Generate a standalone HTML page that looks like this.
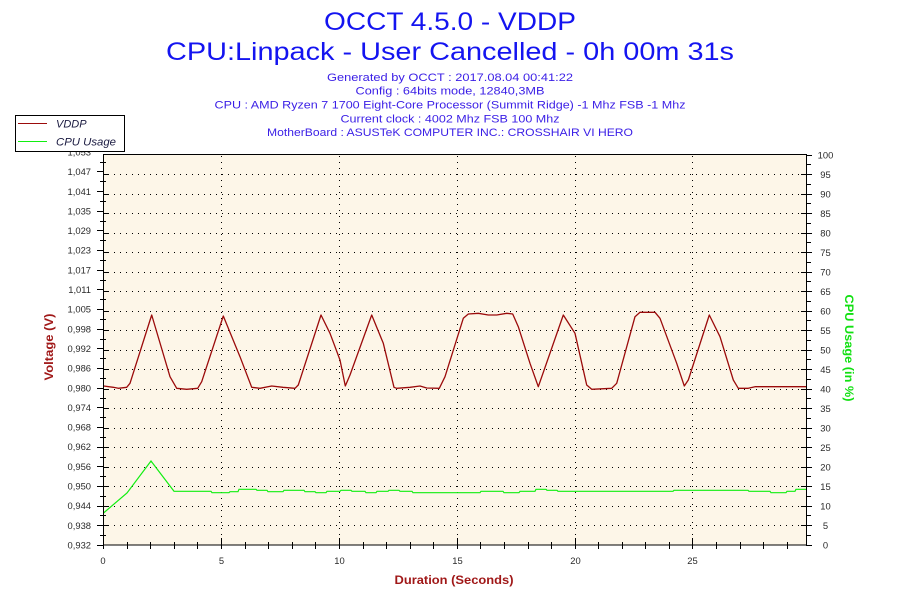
<!DOCTYPE html>
<html><head><meta charset="utf-8"><style>
html,body{margin:0;padding:0;background:#fff;}
svg{display:block;font-family:"Liberation Sans",sans-serif;}
</style></head><body>
<svg width="900" height="600" viewBox="0 0 900 600" xmlns="http://www.w3.org/2000/svg">
<rect width="900" height="600" fill="#fff"/>
<!-- titles -->
<text x="450" y="30" font-size="25" fill="#1414f0" text-anchor="middle" textLength="252" lengthAdjust="spacingAndGlyphs">OCCT 4.5.0 - VDDP</text>
<text x="450" y="60" font-size="25" fill="#1414f0" text-anchor="middle" textLength="568" lengthAdjust="spacingAndGlyphs">CPU:Linpack - User Cancelled - 0h 00m 31s</text>
<g font-size="11.3" fill="#3a1ee6" text-anchor="middle">
<text x="450" y="81" textLength="246" lengthAdjust="spacingAndGlyphs">Generated by OCCT : 2017.08.04 00:41:22</text>
<text x="450" y="94.5" textLength="189" lengthAdjust="spacingAndGlyphs">Config : 64bits mode, 12840,3MB</text>
<text x="450" y="108.5" textLength="471" lengthAdjust="spacingAndGlyphs">CPU : AMD Ryzen 7 1700 Eight-Core Processor (Summit Ridge) -1 Mhz FSB -1 Mhz</text>
<text x="450" y="122.5" textLength="219" lengthAdjust="spacingAndGlyphs">Current clock : 4002 Mhz FSB 100 Mhz</text>
<text x="450" y="136" textLength="366" lengthAdjust="spacingAndGlyphs">MotherBoard : ASUSTeK COMPUTER INC.: CROSSHAIR VI HERO</text>
</g>
<!-- plot bg -->
<rect x="103" y="154" width="703" height="391" fill="#fdf6e8"/>
<!-- horizontal grid -->
<g stroke="#000" stroke-width="1" stroke-dasharray="1 5" shape-rendering="crispEdges">
<line x1="108" x2="806" y1="525.5" y2="525.5"/>
<line x1="108" x2="806" y1="506.5" y2="506.5"/>
<line x1="108" x2="806" y1="486.5" y2="486.5"/>
<line x1="108" x2="806" y1="467.5" y2="467.5"/>
<line x1="108" x2="806" y1="447.5" y2="447.5"/>
<line x1="108" x2="806" y1="428.5" y2="428.5"/>
<line x1="108" x2="806" y1="408.5" y2="408.5"/>
<line x1="108" x2="806" y1="389.5" y2="389.5"/>
<line x1="108" x2="806" y1="369.5" y2="369.5"/>
<line x1="108" x2="806" y1="350.5" y2="350.5"/>
<line x1="108" x2="806" y1="330.5" y2="330.5"/>
<line x1="108" x2="806" y1="311.5" y2="311.5"/>
<line x1="108" x2="806" y1="291.5" y2="291.5"/>
<line x1="108" x2="806" y1="272.5" y2="272.5"/>
<line x1="108" x2="806" y1="252.5" y2="252.5"/>
<line x1="108" x2="806" y1="233.5" y2="233.5"/>
<line x1="108" x2="806" y1="213.5" y2="213.5"/>
<line x1="108" x2="806" y1="194.5" y2="194.5"/>
<line x1="108" x2="806" y1="174.5" y2="174.5"/>
<line y1="156" y2="545" x1="221.5" x2="221.5"/>
<line y1="156" y2="545" x1="339.5" x2="339.5"/>
<line y1="156" y2="545" x1="457.5" x2="457.5"/>
<line y1="156" y2="545" x1="575.5" x2="575.5"/>
<line y1="156" y2="545" x1="692.5" x2="692.5"/>
</g>
<!-- series -->
<polyline fill="none" stroke="#11ee11" stroke-width="1.2" points="103.5,513 127,493 151,461 174,491.3 211,491.3 212,492.7 229,492.7 230,491.7 238,491.7 239,489.3 256,489.3 257,490.3 267,490.3 268,491.7 283,491.7 284,490.3 304,490.3 305,491.7 315,491.7 316,492.7 326,492.7 327,491.3 340,491.3 341,490.3 351,490.3 352,491.3 365,491.3 366,492.7 376,492.7 377,491.3 388,491.3 389,490.3 399,490.3 400,491.3 412,491.3 413,492.7 480,492.7 481,491.3 503,491.3 504,492.7 519,492.7 520,491.3 535,491.3 536,489.3 546,489.3 547,490.3 557,490.3 558,491.3 673,491.3 674,490.3 748,490.3 749,491.3 770,491.3 771,492.7 786,492.7 787,491.3 795,491.3 796,489.3 806,489.3"/>
<polyline fill="none" stroke="#9b0b0b" stroke-width="1.3" stroke-linejoin="round" points="103.7,386 113.3,387.3 118.3,388.3 126.7,387.3 130,383.3 151.7,315 170,376.7 176.7,388.3 186.7,389.3 197.7,388.3 201.7,381.7 223.3,316 240,356.7 251.7,387.3 260,388.3 271.7,386 283,387.3 295,388.3 298.3,385 321,315 330,333.3 340,360 345.3,386 350,375 371.7,315 383.3,343.3 394,387.3 396.7,388.3 410,387.3 420,386 426.7,388 439.3,388.3 445,376.7 463.3,318.3 468.3,314 478.3,313.3 488.3,315 496.7,315 506.7,313.3 512.7,314 518.3,326.7 530,363.3 538.3,386.7 563.3,315 575,333.3 586.7,385 591.7,389.3 611.7,388.3 616.7,383.3 635,316.7 640,312.3 655,312.3 660,318.3 676.7,363.3 684.3,386 688.3,380 709.3,315 720,336.7 733.3,380 738.3,388.3 748.3,388.3 755,386.7 806,386.7"/>
<!-- frame -->
<rect x="103.5" y="154.5" width="703" height="390.5" fill="none" stroke="#000" stroke-width="1" shape-rendering="crispEdges"/>
<!-- ticks -->
<g stroke="#000" stroke-width="1" shape-rendering="crispEdges">
<!-- left major (labels) -->
<path d="M97 545.5H103M97 525.5H103M97 506.5H103M97 486.5H103M97 466.5H103M97 447.5H103M97 427.5H103M97 407.5H103M97 388.5H103M97 368.5H103M97 348.5H103M97 329.5H103M97 309.5H103M97 289.5H103M97 270.5H103M97 250.5H103M97 230.5H103M97 211.5H103M97 191.5H103M97 171.5H103"/>
<!-- left inner -->
<path d="M103 525.5H109M103 506.5H109M103 486.5H109M103 467.5H109M103 447.5H109M103 428.5H109M103 408.5H109M103 389.5H109M103 369.5H109M103 350.5H109M103 330.5H109M103 311.5H109M103 291.5H109M103 272.5H109M103 252.5H109M103 233.5H109M103 213.5H109M103 194.5H109M103 174.5H109"/>
<!-- left minor -->
<path d="M100 535.5H106M100 515.5H106M100 496.5H106M100 476.5H106M100 457.5H106M100 437.5H106M100 417.5H106M100 398.5H106M100 378.5H106M100 358.5H106M100 339.5H106M100 319.5H106M100 299.5H106M100 280.5H106M100 260.5H106M100 240.5H106M100 221.5H106M100 201.5H106M100 181.5H106M100 162.5H106"/>
<!-- right major -->
<path d="M801 525.5H812M801 506.5H812M801 486.5H812M801 467.5H812M801 447.5H812M801 428.5H812M801 408.5H812M801 389.5H812M801 369.5H812M801 350.5H812M801 330.5H812M801 311.5H812M801 291.5H812M801 272.5H812M801 252.5H812M801 233.5H812M801 213.5H812M801 194.5H812M801 174.5H812M806 155.5H812M806 545.5H812"/>
<!-- right minor -->
<path d="M806 535.5H811M806 515.5H811M806 496.5H811M806 476.5H811M806 457.5H811M806 437.5H811M806 418.5H811M806 398.5H811M806 379.5H811M806 359.5H811M806 340.5H811M806 320.5H811M806 301.5H811M806 281.5H811M806 262.5H811M806 242.5H811M806 223.5H811M806 203.5H811M806 184.5H811M806 164.5H811"/>
<!-- x ticks -->
<path d="M127.5 542V549M150.5 542V549M174.5 542V549M197.5 542V549M245.5 542V549M268.5 542V549M292.5 542V549M315.5 542V549M363.5 542V549M386.5 542V549M410.5 542V549M433.5 542V549M480.5 542V549M504.5 542V549M528.5 542V549M551.5 542V549M598.5 542V549M622.5 542V549M645.5 542V549M669.5 542V549M716.5 542V549M740.5 542V549M763.5 542V549M787.5 542V549"/>
<path d="M221.5 538V549M339.5 538V549M457.5 538V549M575.5 538V549M692.5 538V549M103.5 545V549"/>
</g>
<!-- left labels -->
<g font-size="9.4" fill="#2a2a2a" text-anchor="end">
<text x="91" y="548.5">0,932</text>
<text x="91" y="528.8">0,938</text>
<text x="91" y="509.2">0,944</text>
<text x="91" y="489.5">0,950</text>
<text x="91" y="469.9">0,956</text>
<text x="91" y="450.2">0,962</text>
<text x="91" y="430.6">0,968</text>
<text x="91" y="410.9">0,974</text>
<text x="91" y="391.3">0,980</text>
<text x="91" y="371.6">0,986</text>
<text x="91" y="352">0,992</text>
<text x="91" y="332.3">0,998</text>
<text x="91" y="312.7">1,005</text>
<text x="91" y="293">1,011</text>
<text x="91" y="273.4">1,017</text>
<text x="91" y="253.7">1,023</text>
<text x="91" y="234.1">1,029</text>
<text x="91" y="214.4">1,035</text>
<text x="91" y="194.8">1,041</text>
<text x="91" y="175.1">1,047</text>
<text x="91" y="155.5">1,053</text>
</g>
<!-- right labels -->
<g font-size="9.4" fill="#2a2a2a" text-anchor="middle">
<text x="825.5" y="548.5">0</text>
<text x="825.5" y="529">5</text>
<text x="825.5" y="509.5">10</text>
<text x="825.5" y="490">15</text>
<text x="825.5" y="470.5">20</text>
<text x="825.5" y="451">25</text>
<text x="825.5" y="431.5">30</text>
<text x="825.5" y="412">35</text>
<text x="825.5" y="392.5">40</text>
<text x="825.5" y="373">45</text>
<text x="825.5" y="353.5">50</text>
<text x="825.5" y="334">55</text>
<text x="825.5" y="314.5">60</text>
<text x="825.5" y="295">65</text>
<text x="825.5" y="275.5">70</text>
<text x="825.5" y="256">75</text>
<text x="825.5" y="236.5">80</text>
<text x="825.5" y="217">85</text>
<text x="825.5" y="197.5">90</text>
<text x="825.5" y="178">95</text>
<text x="825.5" y="158.5">100</text>
</g>
<!-- x labels -->
<g font-size="9.4" fill="#2a2a2a" text-anchor="middle">
<text x="103" y="564">0</text>
<text x="221.5" y="564">5</text>
<text x="339.5" y="564">10</text>
<text x="457.5" y="564">15</text>
<text x="575.5" y="564">20</text>
<text x="692.5" y="564">25</text>
</g>
<!-- axis titles -->
<text transform="translate(53,347) rotate(-90)" font-size="12" font-weight="bold" fill="#a01818" text-anchor="middle" textLength="67" lengthAdjust="spacingAndGlyphs">Voltage (V)</text>
<text transform="translate(845,348) rotate(90)" font-size="12" font-weight="bold" fill="#11e011" text-anchor="middle" textLength="107" lengthAdjust="spacingAndGlyphs">CPU Usage (in %)</text>
<text x="454" y="584" font-size="12" font-weight="bold" fill="#a01818" text-anchor="middle" textLength="119" lengthAdjust="spacingAndGlyphs">Duration (Seconds)</text>
<!-- legend -->
<rect x="15.5" y="115.5" width="109" height="36" fill="#fff" stroke="#000" stroke-width="1" shape-rendering="crispEdges"/>
<line x1="18" x2="47" y1="123.5" y2="123.5" stroke="#9b0b0b" stroke-width="1"/>
<line x1="18" x2="47" y1="141.5" y2="141.5" stroke="#11ee11" stroke-width="1"/>
<text x="56" y="127.5" font-size="11" font-style="italic" fill="#1a1a40">VDDP</text>
<text x="56" y="145.5" font-size="11" font-style="italic" fill="#1a1a40" textLength="60" lengthAdjust="spacingAndGlyphs">CPU Usage</text>
</svg>
</body></html>
